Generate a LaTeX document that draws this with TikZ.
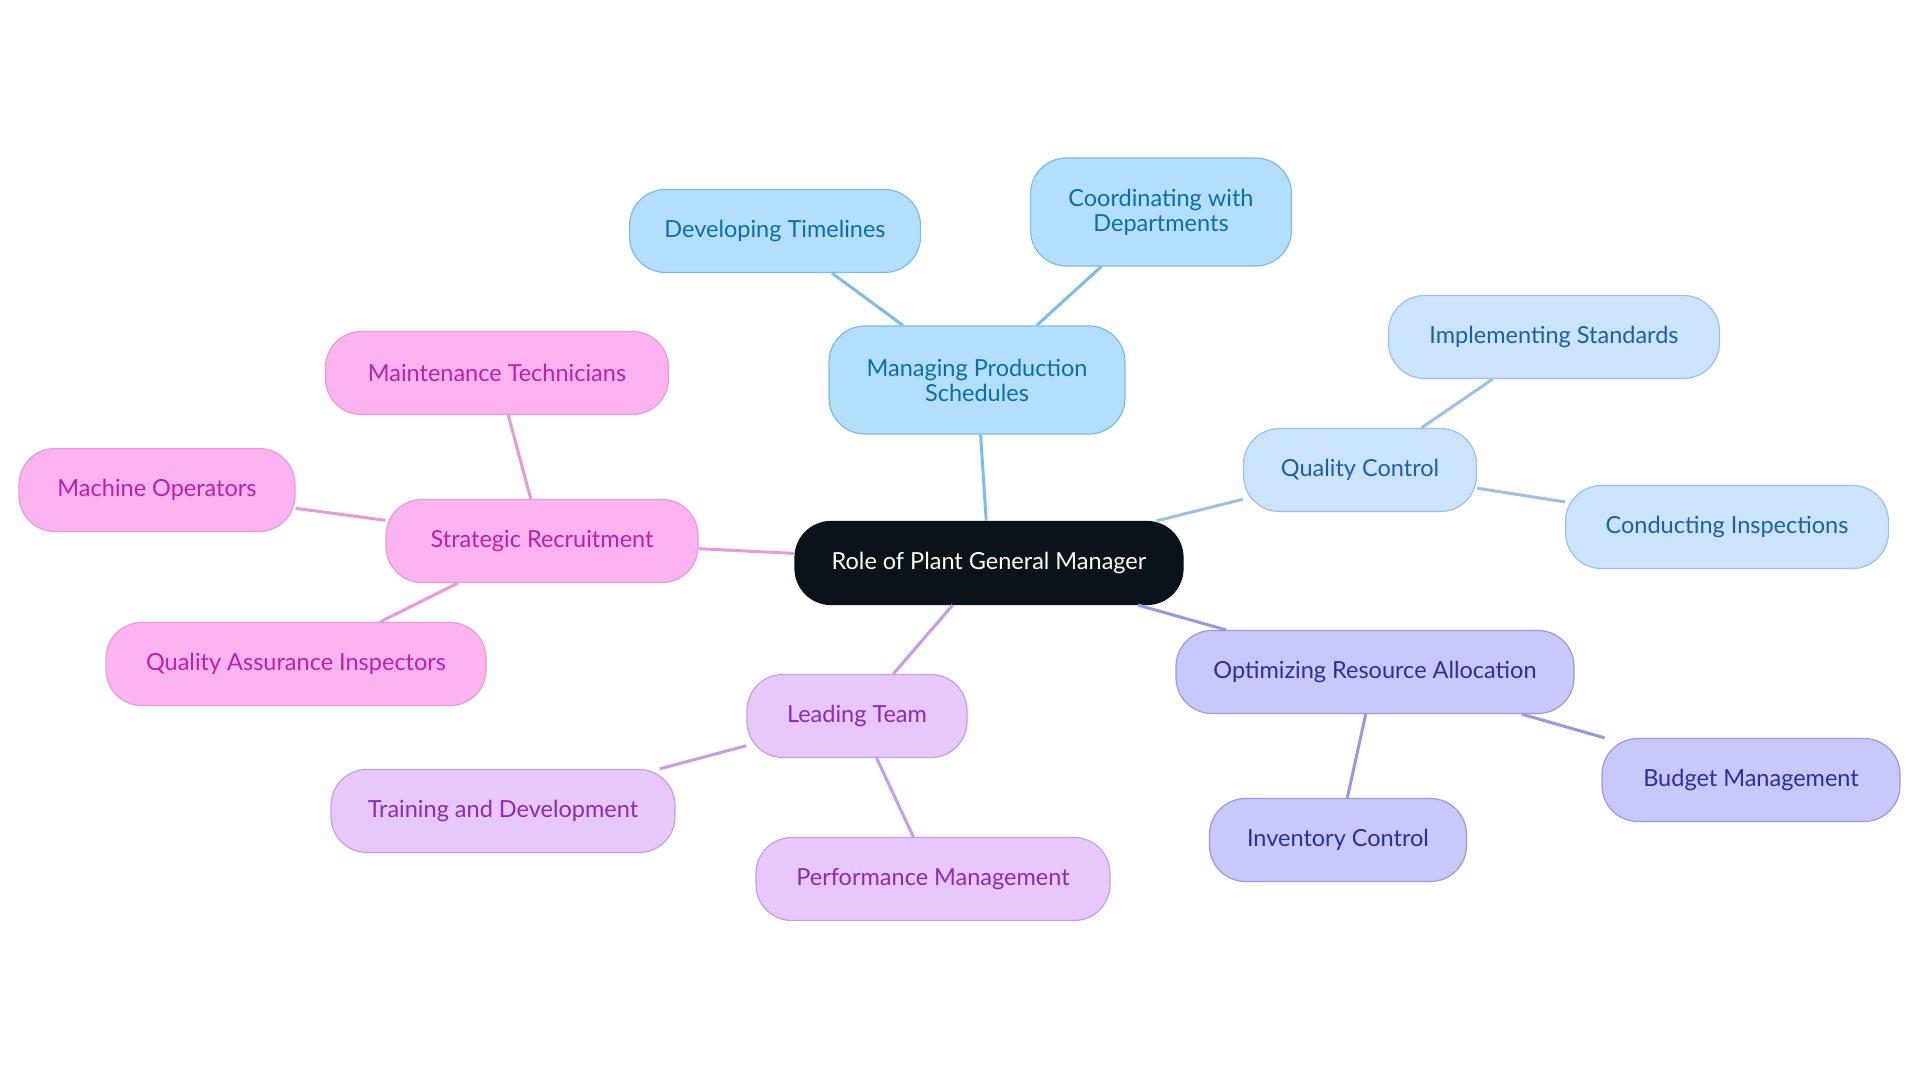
\documentclass[tikz,border=0pt]{standalone}
\usepackage{fontspec}
\setmainfont{Lato}
\usepackage{tikz}
\usetikzlibrary{positioning}
\definecolor{rootfill}{HTML}{0B131A}
\definecolor{mpsfill}{HTML}{B3DFFD}\definecolor{mpsline}{HTML}{7BBDEB}\definecolor{mpstext}{HTML}{0C6DB5}
\definecolor{qcfill}{HTML}{CCE3FC}\definecolor{qcline}{HTML}{9EC0EC}\definecolor{qctext}{HTML}{1A5FB4}
\definecolor{orafill}{HTML}{C8C8FD}\definecolor{oraline}{HTML}{9898E8}\definecolor{oratext}{HTML}{2D2DA8}
\definecolor{ltfill}{HTML}{E8C8FC}\definecolor{ltline}{HTML}{C89CEA}\definecolor{lttext}{HTML}{8A2BBE}
\definecolor{srfill}{HTML}{FDB3F0}\definecolor{srline}{HTML}{EA9ADC}\definecolor{srtext}{HTML}{C020A8}

\begin{document}
\begin{tikzpicture}[x=1pt,y=-1pt,
  box/.style={draw,rounded corners=36pt,line width=1.2pt,minimum height=83pt,align=center,
    font=\fontsize{23.5}{25}\selectfont},
  rootbox/.style={box,fill=rootfill,draw=rootfill,text=white},
  mps/.style={box,fill=mpsfill,draw=mpsline,text=mpstext},
  qc/.style={box,fill=qcfill,draw=qcline,text=qctext},
  ora/.style={box,fill=orafill,draw=oraline,text=oratext},
  lt/.style={box,fill=ltfill,draw=ltline,text=lttext},
  sr/.style={box,fill=srfill,draw=srline,text=srtext},
  link/.style={line width=3pt}]
\useasboundingbox (0,0) rectangle (1920,1083);
% centre
\node[rootbox,minimum width=388pt] (root) at (989,563) {Role of Plant General Manager};
% production schedules
\node[mps,minimum width=296pt,minimum height=108pt] (mps) at (977,380) {Managing Production\\Schedules};
\node[mps,minimum width=291pt] (timelines) at (775,231) {Developing Timelines};
\node[mps,minimum width=261pt,minimum height=108pt] (depts) at (1161,212) {Coordinating with\\Departments};
% quality control
\node[qc,minimum width=233pt] (qc) at (1360,470) {Quality Control};
\node[qc,minimum width=331pt] (standards) at (1554,337) {Implementing Standards};
\node[qc,minimum width=323pt] (inspect) at (1727,527) {Conducting Inspections};
% resources
\node[ora,minimum width=398pt] (ora) at (1375,672) {Optimizing Resource Allocation};
\node[ora,minimum width=298pt] (budget) at (1751,780) {Budget Management};
\node[ora,minimum width=257pt] (inventory) at (1338,840) {Inventory Control};
% team
\node[lt,minimum width=220pt] (team) at (857,716) {Leading Team};
\node[lt,minimum width=344pt] (training) at (503,811) {Training and Development};
\node[lt,minimum width=354pt] (perf) at (933,879) {Performance Management};
% recruitment
\node[sr,minimum width=312pt] (recruit) at (542,541) {Strategic Recruitment};
\node[sr,minimum width=343pt] (maint) at (497,373) {Maintenance Technicians};
\node[sr,minimum width=276pt] (operators) at (157,490) {Machine Operators};
\node[sr,minimum width=380pt] (qai) at (296,664) {Quality Assurance Inspectors};
% links
\foreach \a/\b/\c in {root/mps/mpsline,mps/timelines/mpsline,mps/depts/mpsline,
    root/qc/qcline,qc/standards/qcline,qc/inspect/qcline,
    root/ora/oraline,ora/budget/oraline,ora/inventory/oraline,
    root/team/ltline,team/training/ltline,team/perf/ltline,
    root/recruit/srline,recruit/maint/srline,recruit/operators/srline,recruit/qai/srline}
  \draw[link,\c] (\a) -- (\b);
\end{tikzpicture}
\end{document}
